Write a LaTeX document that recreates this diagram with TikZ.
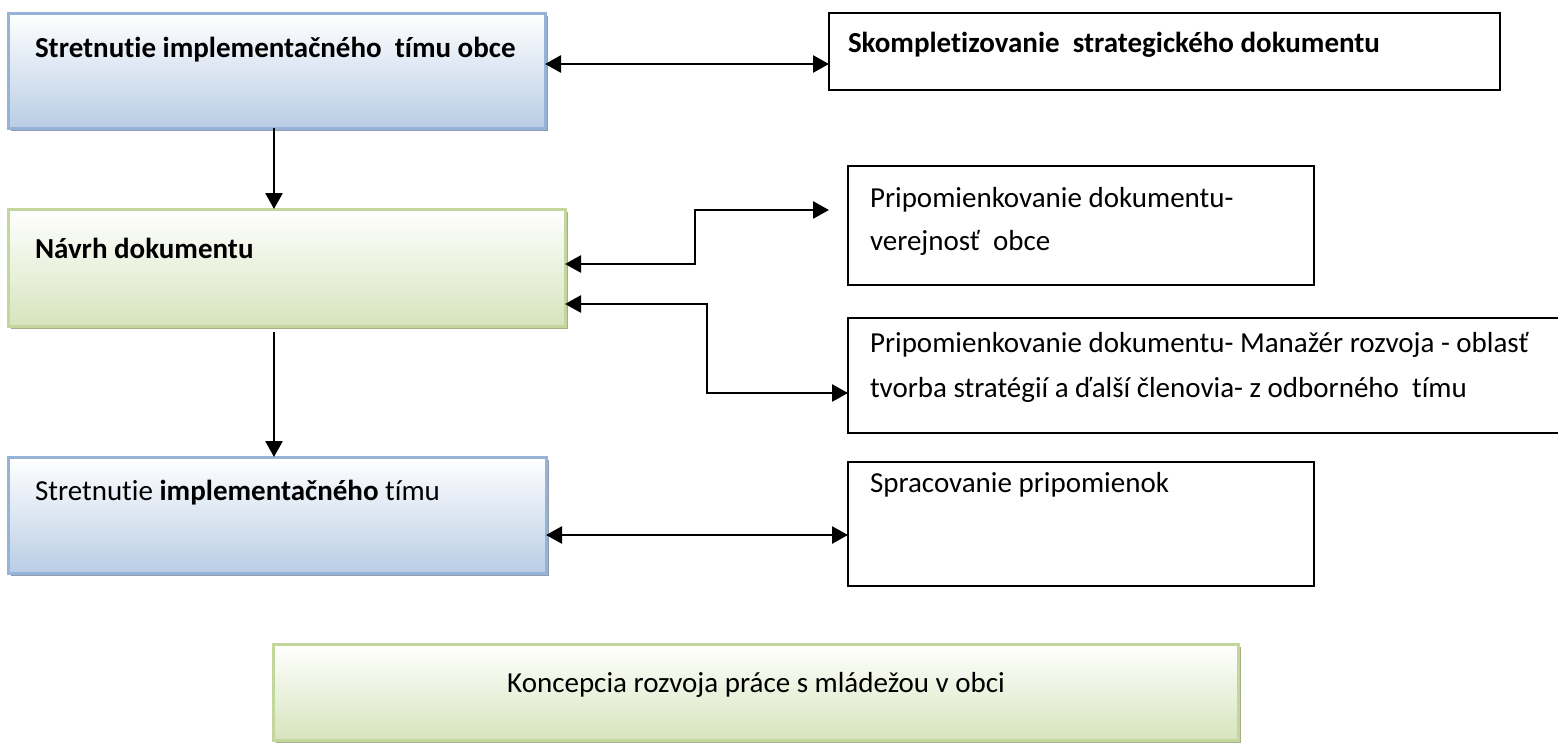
\documentclass[tikz,border=0pt]{standalone}
\usepackage{fontspec}
\setmainfont{Carlito}[Ligatures=NoCommon]
\usetikzlibrary{arrows.meta,shadows}

\definecolor{blueBot}{HTML}{B9CDE5}
\definecolor{blueEdge}{HTML}{95B3D7}
\definecolor{blueShade}{HTML}{8D9CB0}
\definecolor{greenBot}{HTML}{D7E4BD}
\definecolor{greenEdge}{HTML}{C3D69B}
\definecolor{greenShade}{HTML}{A5AD8B}

\tikzset{
  box/.style={anchor=north west, inner sep=0pt, outer sep=0pt},
  bluebox/.style={box, draw=blueEdge, line width=1.5pt,
    top color=white, bottom color=blueBot,
    general shadow={fill=blueShade, shadow xshift=1.5pt, shadow yshift=-1.5pt}},
  greenbox/.style={box, draw=greenEdge, line width=1.5pt,
    top color=white, bottom color=greenBot,
    general shadow={fill=greenShade, shadow xshift=1.5pt, shadow yshift=-1.5pt}},
  plainbox/.style={box, draw=black, line width=1pt, fill=white},
  txt/.style={anchor=base west, inner sep=0pt, outer sep=0pt},
  tip/.tip={Triangle[length=8pt,width=8.5pt]},
  link/.style={line width=1.35pt, tip-tip},
  flow/.style={line width=1.35pt, -tip},
}

\begin{document}
\begin{tikzpicture}[x=0.5pt, y=-0.5pt, font=\fontsize{14.5}{21.5}\selectfont]
  \fill[white] (0,0) rectangle (1558,750);
  \useasboundingbox (0,0) rectangle (1558,750);

  % left column: process steps
  \node[bluebox, minimum width=268.5pt, minimum height=57.5pt] (A) at (8,13) {};
  \node[greenbox, minimum width=278.5pt, minimum height=58.5pt] (C) at (8,209) {};
  \node[bluebox, minimum width=269pt, minimum height=58pt] (F) at (8,457) {};
  \node[greenbox, minimum width=482.5pt, minimum height=48pt] (H) at (273,644) {};

  % right column: outputs and comments
  \node[plainbox, minimum width=335.5pt, minimum height=38.5pt] (B) at (829,13) {};
  \node[plainbox, minimum width=233pt, minimum height=59.5pt] (D) at (848,166) {};
  \node[plainbox, minimum width=360pt, minimum height=57.5pt] (E) at (848,318) {};
  \node[plainbox, minimum width=233pt, minimum height=62pt] (G) at (848,462) {};

  % texts
  \node[txt] (A-t) at (35,57) {\textbf{Stretnutie implementačného\ \ tímu obce}};
  \node[txt] (B-t) at (848,52) {\textbf{Skompletizovanie\ \ strategického dokumentu}};
  \node[txt] (C-t) at (35,258) {\textbf{Návrh dokumentu}};
  \node[txt] (D-t1) at (870,207) {Pripomienkovanie dokumentu-};
  \node[txt] (D-t2) at (870,250) {verejnosť\ \ obce};
  \node[txt] (E-t1) at (870,352) {Pripomienkovanie dokumentu- Manažér rozvoja - oblasť};
  \node[txt] (E-t2) at (870,397) {tvorba stratégií a ďalší členovia- z odborného\ \ tímu};
  \node[txt] (F-t) at (35,500) {Stretnutie \textbf{implementačného} tímu};
  \node[txt] (G-t) at (870,492) {Spracovanie pripomienok};
  \node[txt, anchor=base] (H-t) at (756,692) {Koncepcia rozvoja práce s mládežou v obci};

  % connector levels
  \coordinate (yAB) at (0,64);
  \coordinate (cD) at (0,264);
  \coordinate (kD) at (695,0);
  \coordinate (tD) at (829,210);
  \coordinate (cE) at (0,304);
  \coordinate (kE) at (707,0);
  \coordinate (yE) at (0,393);
  \coordinate (yFG) at (0,535);
  \coordinate (xV) at (274,0);

  % connectors
  \draw[link] (A.east |- yAB) -- (B.west |- yAB);
  \draw[flow] (xV |- A.south) -- (xV |- C.north);
  \draw[link] (C.east |- cD) -| (kD |- tD) -- (tD);
  \draw[link] (C.east |- cE) -| (kE |- yE) -- (E.west |- yE);
  \draw[flow] ([yshift=-3pt]xV |- C.south) -- (xV |- F.north);
  \draw[link] (F.east |- yFG) -- (G.west |- yFG);
\end{tikzpicture}
\end{document}
